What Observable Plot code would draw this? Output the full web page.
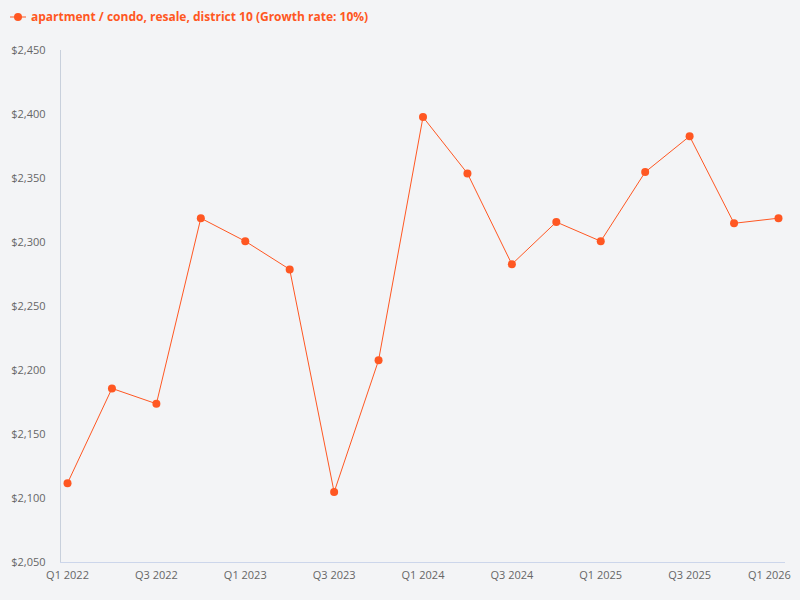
<!DOCTYPE html>
<html>
<head>
<meta charset="utf-8">
<script src="https://cdn.jsdelivr.net/npm/d3@7"></script>
<script src="https://cdn.jsdelivr.net/npm/@observablehq/plot@0.6"></script>
<style>
  html, body { margin: 0; padding: 0; background: #f3f4f6; }
  body { width: 800px; height: 600px; overflow: hidden; font-family: "Open Sans", sans-serif; }
  #legend { height: 36px; position: relative; }
  #legend svg { position: absolute; left: 8px; top: 11px; }
  #legend span { position: absolute; left: 31px; top: 8px; font-size: 12px; font-weight: bold; color: #ff5722; }
</style>
</head>
<body>
<div id="legend">
  <svg width="20" height="12"><line x1="2" x2="18" y1="6" y2="6" stroke="#ff5722" stroke-width="1"></line><circle cx="10" cy="6" r="4" fill="#ff5722"></circle></svg>
  <span>apartment / condo, resale, district 10 (Growth rate: 10%)</span>
</div>
<div id="chart"></div>
<script>
const quarters = ["Q1 2022","Q2 2022","Q3 2022","Q4 2022","Q1 2023","Q2 2023","Q3 2023","Q4 2023","Q1 2024","Q2 2024","Q3 2024","Q4 2024","Q1 2025","Q2 2025","Q3 2025","Q4 2025","Q1 2026"];
const prices = [2112, 2186, 2174, 2319, 2301, 2279, 2105, 2208, 2398, 2354, 2283, 2316, 2301, 2355, 2383, 2315, 2319];
const yTicks = [2050, 2100, 2150, 2200, 2250, 2300, 2350, 2400, 2450];
const xTickLabels = ["Q1 2022","Q3 2022","Q1 2023","Q3 2023","Q1 2024","Q3 2024","Q1 2025","Q3 2025","Q1 2026"];

const data = quarters.map((q, i) => ({q, price: prices[i]}));
const color = "#ff5722";
const axisColor = "#ccd6eb";
const textColor = "#666666";

const chart = Plot.plot({
  width: 800,
  height: 564,
  marginTop: 14,
  marginBottom: 38,
  marginLeft: 60,
  marginRight: 15,
  style: {background: "#f3f4f6", fontFamily: "Open Sans, sans-serif", fontSize: "11px", color: textColor},
  x: {type: "point", domain: quarters, padding: 0.158, round: false, label: null},
  y: {domain: [2050, 2450], label: null},
  marks: [
    Plot.frame({anchor: "left", stroke: "#c8d0dc"}),
    Plot.ruleY([2050], {stroke: axisColor}),
    Plot.axisY({ticks: yTicks, tickSize: 0, tickPadding: 15, tickFormat: d => "$" + d3.format(",")(d), fill: textColor}),
    Plot.axisX({ticks: xTickLabels.slice(0, -1), tickSize: 0, tickPadding: 9, fill: textColor}),
    Plot.axisX({ticks: xTickLabels.slice(-1), tickSize: 0, tickPadding: 9, dx: -9, fill: textColor}),
    Plot.line(data, {x: "q", y: "price", stroke: color, strokeWidth: 1}),
    Plot.dot(data, {x: "q", y: "price", fill: color, r: 4})
  ]
});
document.getElementById("chart").appendChild(chart);
</script>
</body>
</html>
